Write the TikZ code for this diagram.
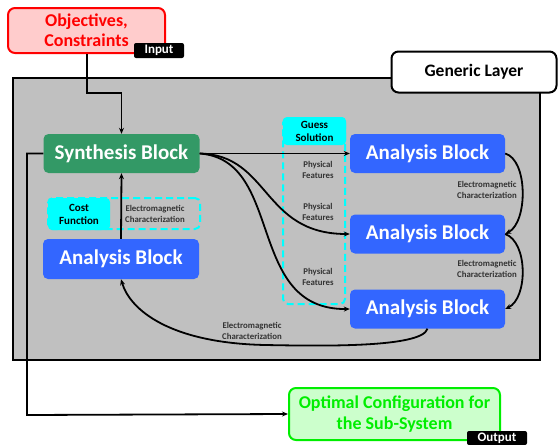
\documentclass[tikz,border=0pt]{standalone}
\usepackage{fontspec}
\setmainfont{Carlito}
\usepackage{xcolor}
\usetikzlibrary{arrows.meta}

\definecolor{objred}{HTML}{FF0000}
\definecolor{objfill}{HTML}{FFCCCC}
\definecolor{synthgreen}{HTML}{339966}
\definecolor{anablue}{HTML}{3366FF}
\definecolor{layergray}{HTML}{C0C0C0}
\definecolor{outgreen}{HTML}{00EE00}
\definecolor{outfill}{HTML}{CCFFCC}
\definecolor{guesscyan}{HTML}{00FFFF}

\tikzset{
  blockbox/.style={rounded corners=5pt, text=white, font=\fontsize{21}{23}\selectfont\bfseries, inner sep=0pt},
  tagbox/.style={fill=black, rounded corners=2pt, text=white, font=\fontsize{13}{14}\selectfont\bfseries, inner sep=0pt},
  cyanbox/.style={fill=guesscyan, rounded corners=4pt, font=\fontsize{11}{13}\selectfont\bfseries, align=center, inner sep=0pt},
  dashbox/.style={draw=guesscyan, line width=2pt, dash pattern=on 7pt off 4pt, rounded corners=5pt},
  smalltext/.style={font=\fontsize{8.8}{10.5}\selectfont\bfseries, text=black!80, align=center},
  conn/.style={line width=1.8pt, -{Stealth[length=6pt,width=5pt]}}
}

\begin{document}
\begin{tikzpicture}[x=1pt,y=-1pt]
				\useasboundingbox (0,0) rectangle (558,445);
				% generic layer
				\node (layer) at (276.5,219) [draw, fill=layergray, line width=2.2pt, minimum width=527, minimum height=282] {};
				\node (generic) at (474,72) [draw, fill=white, line width=2pt, rounded corners=7pt, minimum width=165, minimum height=41, font=\fontsize{17.5}{19}\selectfont\bfseries] {Generic Layer};
				% inputs
				\node (obj) at (86.5,30.5) [draw=objred, fill=objfill, line width=2pt, rounded corners=7pt, minimum width=157, minimum height=45, align=center, text=objred, font=\fontsize{18}{20}\selectfont\bfseries] {Objectives,\\Constraints};
				\node (intag) at (159,50.5) [tagbox, minimum width=50, minimum height=15] {Input};
				% cyan boxes
				\node (emfit) at (124,213.5) [dashbox, minimum width=152, minimum height=31] {};
				\node (cost) at (79,214) [cyanbox, minimum width=62, minimum height=32] {Cost\\Function};
				\node (emlbl) at (155,214) [smalltext] {Electromagnetic\\Characterization};
				\node (featfit) at (314,211) [dashbox, minimum width=62, minimum height=186] {};
				\node (guess) at (314.5,131) [cyanbox, minimum width=63, minimum height=28] {Guess\\Solution};
				\node (pf1) at (318,170) [smalltext] {Physical\\Features};
				\node (pf2) at (318,212) [smalltext] {Physical\\Features};
				\node (pf3) at (318,277) [smalltext] {Physical\\Features};
				% blocks
				\node (synth) at (121.5,153.5) [blockbox, fill=synthgreen, minimum width=156, minimum height=39] {Synthesis Block};
				\node (anaL) at (121,259) [blockbox, fill=anablue, minimum width=156, minimum height=40] {Analysis Block};
				\node (anaA) at (427.5,153.5) [blockbox, fill=anablue, minimum width=155, minimum height=39] {Analysis Block};
				\node (anaB) at (427.5,234) [blockbox, fill=anablue, minimum width=155, minimum height=39] {Analysis Block};
				\node (anaC) at (427.5,309) [blockbox, fill=anablue, minimum width=155, minimum height=39] {Analysis Block};
				% output
				\node (out) at (394.5,414) [draw=outgreen, fill=outfill, line width=2pt, rounded corners=7pt, minimum width=211, minimum height=52, align=center, text=outgreen, font=\fontsize{18}{21}\selectfont\bfseries] {Optimal Configuration for\\the Sub-System};
				\node (outtag) at (497,438) [tagbox, minimum width=60, minimum height=14] {Output};
				% connectors
				\coordinate (bendA) at (87,93);
				\coordinate (bendB) at (27,415);
				\draw[conn] (obj.south -| bendA) -- (bendA) -| (synth.north);
				\draw[conn] (anaL.north) -- (synth.south);
				\draw[conn] (synth.west) -| (bendB) -- (out.west);
				\draw[conn] (synth.east) -- (anaA.west);
				\draw[conn] (synth.east) .. controls (270,155) and (262,234) .. (anaB.west);
				\draw[conn] (synth.east) .. controls (285,160) and (245,310) .. (anaC.west);
				\draw[conn] (anaA.east) .. controls (528,160) and (528,222) .. (anaB.east);
				\draw[conn] (anaB.east) .. controls (528,242) and (528,298) .. (anaC.east);
				\draw[conn] (anaC.south) .. controls (422,348) and (320,346) .. (265,345) .. controls (170,343) and (130,310) .. (anaL.south);
				\node (emA) at (487,190) [smalltext] {Electromagnetic\\Characterization};
				\node (emB) at (487,269) [smalltext] {Electromagnetic\\Characterization};
				\node (emC) at (252,331) [smalltext] {Electromagnetic\\Characterization};
			\end{tikzpicture}
\end{document}
